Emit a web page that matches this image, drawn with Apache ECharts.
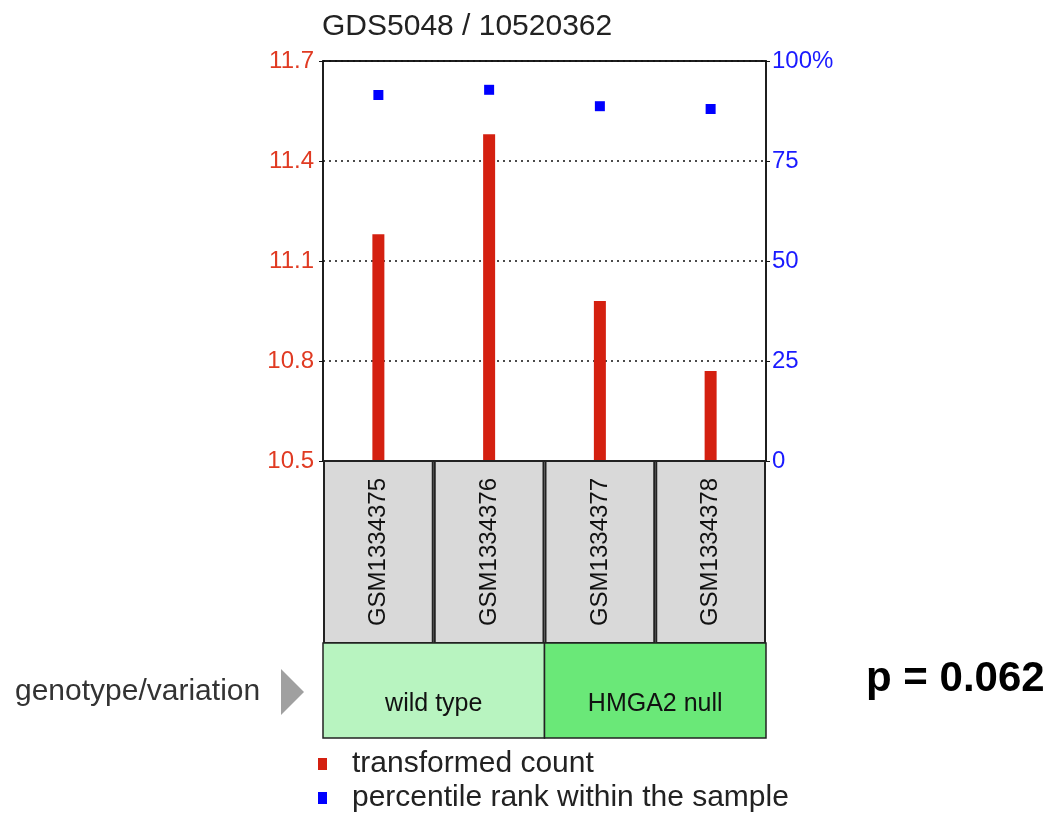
<!DOCTYPE html>
<html><head><meta charset="utf-8">
<script src="https://cdn.jsdelivr.net/npm/echarts@6/dist/echarts.min.js"></script>
<style>html,body{margin:0;padding:0;background:#fff}#c{width:1050px;height:813px}</style>
</head><body><div id="c"></div>
<script>
const title = 'GDS5048 / 10520362';
const samples = ['GSM1334375','GSM1334376','GSM1334377','GSM1334378'];
const transformedCount = [11.18, 11.48, 10.98, 10.77];
const percentileRank = [91.5, 92.8, 88.7, 88.0];
const groups = ['wild type','HMGA2 null'];
const groupSpans = [2, 2];
const groupColors = ['#b8f4c0', '#6ae878'];
const leftTicks = [10.5, 10.8, 11.1, 11.4, 11.7];
const rightTicks = [0, 25, 50, 75, 100];
const seriesNames = ['transformed count', 'percentile rank within the sample'];
const groupLabel = 'genotype/variation';
const pValue = 'p = 0.062';

const FONT = 'Liberation Sans, Arial, sans-serif';
const G = {left: 323, top: 61, width: 443, height: 400};
const legendStyle = (name, top) => ({
  left: 313, top: top, orient: 'vertical', itemWidth: 9, itemHeight: 12, icon: 'rect',
  textStyle: {fontFamily: FONT, fontSize: 30, color: '#222', padding: [0,0,0,20]},
  data: [name], selectedMode: false
});
const chart = echarts.init(document.getElementById('c'));
chart.setOption({
  animation: false,
  backgroundColor: '#fff',
  title: {text: title, left: 317, top: 7, textStyle: {fontFamily: FONT, fontSize: 30, fontWeight: 'normal', color: '#222'}},
  legend: [legendStyle(seriesNames[0], 744), legendStyle(seriesNames[1], 778)],
  grid: {left: G.left, top: G.top, width: G.width, height: G.height, show: true, borderColor: '#111', borderWidth: 1.5, backgroundColor: '#fff'},
  xAxis: [
    {type: 'category', data: samples, position: 'bottom', axisLine: {show: true, lineStyle: {color: '#111', width: 1.5}}, axisTick: {show: false}, axisLabel: {show: false}},
    {type: 'category', data: samples, position: 'top', axisLine: {show: true, lineStyle: {color: '#111', width: 1.5}}, axisTick: {show: false}, axisLabel: {show: false}}
  ],
  yAxis: [
    {type: 'value', min: leftTicks[0], max: leftTicks[leftTicks.length-1], interval: 0.3, position: 'left',
     axisLine: {show: true, lineStyle: {color: '#111', width: 1.5}},
     axisTick: {show: true, length: 4, lineStyle: {color: '#111'}},
     axisLabel: {fontFamily: FONT, fontSize: 24, color: '#e03a22', margin: 9, formatter: v => v.toFixed(1)},
     splitLine: {show: true, lineStyle: {color: '#111', type: [2, 4], width: 1.5}}},
    {type: 'value', min: rightTicks[0], max: rightTicks[rightTicks.length-1], interval: 25, position: 'right',
     axisLine: {show: true, lineStyle: {color: '#111', width: 1.5}},
     axisTick: {show: true, length: 4, lineStyle: {color: '#111'}},
     axisLabel: {fontFamily: FONT, fontSize: 24, color: '#1a1aff', margin: 6, formatter: v => v === 100 ? '100%' : String(v)},
     splitLine: {show: false}}
  ],
  series: [
    {name: seriesNames[0], type: 'bar', xAxisIndex: 0, yAxisIndex: 0, data: transformedCount, barWidth: 12, itemStyle: {color: '#d42010', opacity: 1}, z: 3},
    {name: seriesNames[1], type: 'scatter', xAxisIndex: 0, yAxisIndex: 1, data: percentileRank, symbol: 'rect', symbolSize: 10, itemStyle: {color: '#0000ff', opacity: 1}, z: 4}
  ]
});

// Build annotation cells from the axis scale
const bottom = G.top + G.height;
const cellH = 182, groupH = 95;
const band = chart.convertToPixel({xAxisIndex: 0}, samples[1]) - chart.convertToPixel({xAxisIndex: 0}, samples[0]);
const gfx = [];
samples.forEach((s, i) => {
  const cx = chart.convertToPixel({xAxisIndex: 0}, s);
  const x0 = cx - band / 2;
  gfx.push({type: 'rect', shape: {x: x0 + 1, y: bottom, width: band - 2, height: cellH}, style: {fill: '#d9d9d9', stroke: '#222', lineWidth: 2}, z: 10});
  gfx.push({type: 'text', x: cx, y: bottom + cellH / 2, rotation: Math.PI / 2,
    style: {text: s, fontFamily: FONT, fontSize: 24, fill: '#111', align: 'center', verticalAlign: 'middle'}, z: 11});
});
let idx = 0;
groups.forEach((g, k) => {
  const first = samples[idx], last = samples[idx + groupSpans[k] - 1];
  const xa = chart.convertToPixel({xAxisIndex: 0}, first) - band / 2;
  const xb = chart.convertToPixel({xAxisIndex: 0}, last) + band / 2;
  idx += groupSpans[k];
  gfx.push({type: 'rect', shape: {x: xa, y: bottom + cellH, width: xb - xa, height: groupH}, style: {fill: groupColors[k], stroke: '#222', lineWidth: 1.5}, z: 10});
  gfx.push({type: 'text', x: (xa + xb) / 2, y: bottom + cellH + 61,
    style: {text: g, fontFamily: FONT, fontSize: 25, fill: '#111', align: 'center', verticalAlign: 'middle'}, z: 11});
});
const gy = bottom + cellH + 49;
gfx.push({type: 'text', x: 15, y: gy, style: {text: groupLabel, fontFamily: FONT, fontSize: 30, fill: '#333', align: 'left', verticalAlign: 'middle'}, z: 11});
gfx.push({type: 'polygon', shape: {points: [[281, gy - 23], [304, gy], [281, gy + 23]]}, style: {fill: '#a0a0a0'}, z: 11});
gfx.push({type: 'text', x: 866, y: gy - 13, style: {text: pValue, fontFamily: FONT, fontSize: 42, fontWeight: 'bold', fill: '#000', align: 'left', verticalAlign: 'middle'}, z: 11});
chart.setOption({graphic: gfx});
</script></body></html>
